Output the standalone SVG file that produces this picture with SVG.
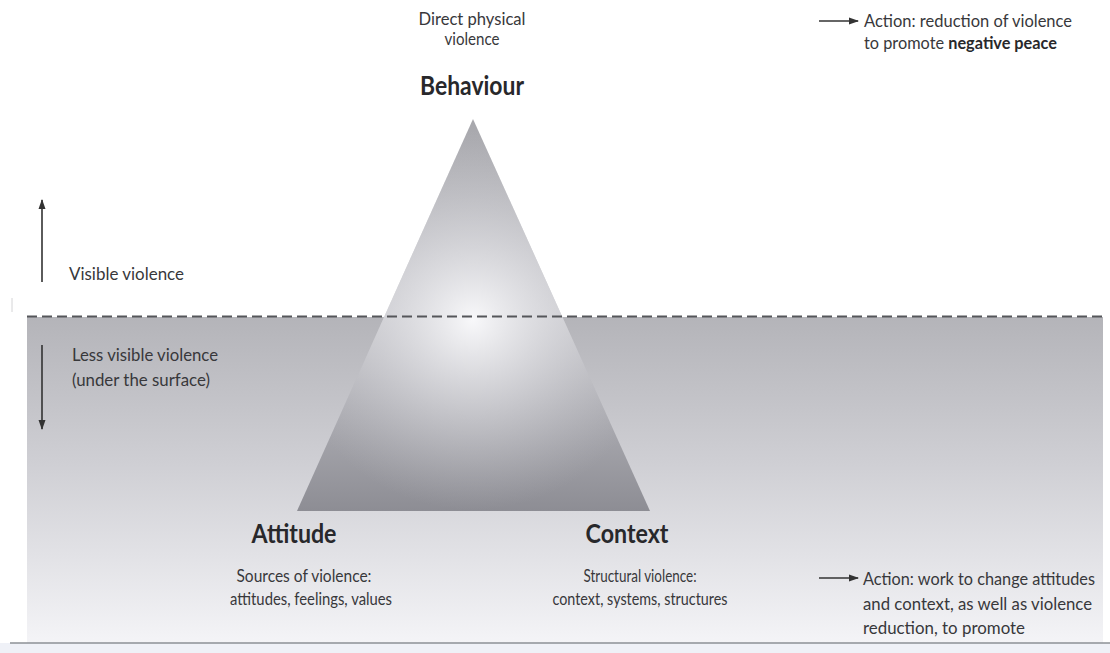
<svg xmlns="http://www.w3.org/2000/svg" width="1110" height="653" viewBox="0 0 1110 653">
  <style>
    .lbl { font-family: Lato, "Open Sans", "Liberation Sans", sans-serif; fill: #38383b; font-size: 16.5px; }
    .head { font-family: Lato, "Open Sans", "Liberation Sans", sans-serif; fill: #28282b; font-size: 26px; font-weight: bold; }
    .b { font-weight: bold; fill: #28282b; }
    .arrow { stroke: #333; stroke-width: 1.6; fill: none; }
  </style>
  <defs>
    <linearGradient id="water" x1="0" y1="0" x2="0" y2="1">
      <stop offset="0" stop-color="#b4b4b9"/>
      <stop offset="0.45" stop-color="#cfcfd4"/>
      <stop offset="1" stop-color="#f4f4f7"/>
    </linearGradient>
    <linearGradient id="pyrBase" x1="0" y1="0" x2="0" y2="1">
      <stop offset="0" stop-color="#a7a7ac"/>
      <stop offset="0.5" stop-color="#c9c9ce"/>
      <stop offset="1" stop-color="#8d8d94"/>
    </linearGradient>
    <radialGradient id="glow" cx="473" cy="320" r="190" gradientUnits="userSpaceOnUse">
      <stop offset="0" stop-color="#f8f8fa" stop-opacity="1"/>
      <stop offset="0.45" stop-color="#dcdce0" stop-opacity="0.6"/>
      <stop offset="1" stop-color="#c0c0c5" stop-opacity="0"/>
    </radialGradient>
    <marker id="head" viewBox="0 0 10 10" refX="9" refY="5" markerWidth="10" markerHeight="10" markerUnits="userSpaceOnUse" orient="auto">
      <path d="M0,1.5 L10,5 L0,8.5 Z" fill="#333"/>
    </marker>
  </defs>

  <rect width="1110" height="653" fill="#ffffff"/>

  <!-- submerged zone below the surface line -->
  <g id="surface-zone">
    <rect x="27" y="317" width="1076" height="326" fill="url(#water)"/>
    <rect x="0" y="643" width="1110" height="10" fill="#eff1f7"/>
    <line x1="10" y1="643" x2="1110" y2="643" stroke="#8d9096" stroke-width="1.6"/>
    <line x1="12" y1="298" x2="12" y2="312" stroke="#d4d4d6" stroke-width="1"/>
  </g>

  <!-- conflict triangle -->
  <g id="triangle">
    <polygon points="473,119 297,511 650,511" fill="url(#pyrBase)"/>
    <polygon points="473,119 297,511 650,511" fill="url(#glow)"/>
  </g>

  <!-- waterline and arrows -->
  <g id="connectors">
    <line x1="27" y1="316.5" x2="1105" y2="316.5" stroke="#55565a" stroke-width="2" stroke-dasharray="10 5"/>
    <line class="arrow" x1="42" y1="282" x2="42" y2="200" marker-end="url(#head)"/>
    <line class="arrow" x1="42" y1="345" x2="42" y2="429" marker-end="url(#head)"/>
    <line class="arrow" x1="819" y1="21" x2="858" y2="21" marker-end="url(#head)"/>
    <line class="arrow" x1="819" y1="578" x2="858" y2="578" marker-end="url(#head)"/>
  </g>

  <g id="behaviour">
    <text class="lbl" x="472" y="25" text-anchor="middle" textLength="107" lengthAdjust="spacingAndGlyphs">Direct physical</text>
    <text class="lbl" x="472" y="45" text-anchor="middle" textLength="55" lengthAdjust="spacingAndGlyphs">violence</text>
    <text class="head" x="472" y="95" text-anchor="middle" textLength="104" lengthAdjust="spacingAndGlyphs">Behaviour</text>
  </g>

  <g id="action-negative">
    <text class="lbl" x="864" y="27" textLength="208" lengthAdjust="spacingAndGlyphs">Action: reduction of violence</text>
    <text class="lbl" x="864" y="49" textLength="193" lengthAdjust="spacingAndGlyphs">to promote <tspan class="b">negative peace</tspan></text>
  </g>

  <g id="visible">
    <text class="lbl" x="69" y="280" textLength="115" lengthAdjust="spacingAndGlyphs">Visible violence</text>
  </g>

  <g id="less-visible">
    <text class="lbl" x="72" y="361" textLength="146" lengthAdjust="spacingAndGlyphs">Less visible violence</text>
    <text class="lbl" x="72" y="386" textLength="138" lengthAdjust="spacingAndGlyphs">(under the surface)</text>
  </g>

  <g id="attitude">
    <text class="head" x="294" y="543" text-anchor="middle" textLength="85" lengthAdjust="spacingAndGlyphs">Attitude</text>
    <text class="lbl" x="304" y="582" text-anchor="middle" textLength="135" lengthAdjust="spacingAndGlyphs">Sources of violence:</text>
    <text class="lbl" x="311" y="605" text-anchor="middle" textLength="162" lengthAdjust="spacingAndGlyphs">attitudes, feelings, values</text>
  </g>

  <g id="context">
    <text class="head" x="627" y="543" text-anchor="middle" textLength="83" lengthAdjust="spacingAndGlyphs">Context</text>
    <text class="lbl" x="640" y="582" text-anchor="middle" textLength="113" lengthAdjust="spacingAndGlyphs">Structural violence:</text>
    <text class="lbl" x="640" y="605" text-anchor="middle" textLength="175" lengthAdjust="spacingAndGlyphs">context, systems, structures</text>
  </g>

  <g id="action-positive">
    <text class="lbl" x="863" y="585" textLength="232" lengthAdjust="spacingAndGlyphs">Action: work to change attitudes</text>
    <text class="lbl" x="863" y="610" textLength="229" lengthAdjust="spacingAndGlyphs">and context, as well as violence</text>
    <text class="lbl" x="863" y="634" textLength="162" lengthAdjust="spacingAndGlyphs">reduction, to promote</text>
  </g>
</svg>
